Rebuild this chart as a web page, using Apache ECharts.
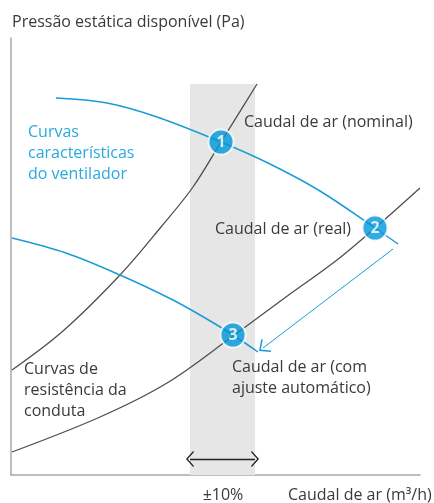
<!DOCTYPE html>
<html>
<head>
<meta charset="utf-8">
<script src="https://cdn.jsdelivr.net/npm/echarts@6.0.0/dist/echarts.min.js"></script>
<style>
  html, body { margin: 0; padding: 0; background: #fff; }
  #main { width: 434px; height: 503px; }
</style>
</head>
<body>
<div id="main"></div>
<script>
// schematic units: flow (x) and pressure (y), no ticks on the original
const fanNominal = [[45, 377], [96, 372], [146, 358], [210, 333], [259, 311], [309, 284], [364, 247], [387, 231]]
const fanReduced = [[1, 237], [55, 222], [109, 200], [160, 176], [189, 160], [222, 140], [247, 123]]
const ductHigh = [[1, 105], [52, 144], [109, 200], [150, 248], [182, 288], [210, 333], [246, 391]]
const ductLow = [[1, 23], [89, 58], [156, 92], [222, 139], [275, 178], [326, 215], [364, 247], [409, 287]]
const workPoints = [[210, 333, "1"], [364, 247, "2"], [222, 140, "3"]]
const tolBand = [179, 244] // ±10% of flow
const bandTop = 391
const tolArrowY = 16
const shiftArrow = [[382, 226], [252, 127]]

const BLUE = "#1a9bd7"
const GREY = "#4f4f4f"
const TXT = "#3a3a3a"
const FONT = "Open Sans"
const chevron = "path://M0,10 L10,0 L20,10 L18.6,11.2 L10,2.6 L1.4,11.2 Z"

const myChart = echarts.init(document.getElementById("main"))

const txt = (x, y, s, color, align) => ({
  type: "text",
  z: 100,
  x: x,
  y: y,
  style: {
    text: s,
    fill: color || TXT,
    font: "16px '" + FONT + "'",
    lineHeight: 21,
    align: align || "left",
    verticalAlign: "middle",
  },
})

const curve = (data, color, width) => ({
  type: "line", data: data, smooth: 0.35,
  symbol: "none", clip: false, silent: true,
  lineStyle: { color: color, width: width },
})

myChart.setOption({
  animation: false,
  grid: { left: 11, right: 14, top: 38, bottom: 28 },
  xAxis: {
    type: "value", min: 0, max: 409,
    axisLine: { show: true, lineStyle: { color: "#a8a8a8", width: 1.5 } },
    axisTick: { show: false }, axisLabel: { show: false }, splitLine: { show: false },
  },
  yAxis: {
    type: "value", min: 0, max: 437,
    axisLine: { show: true, lineStyle: { color: "#a8a8a8", width: 1.5 } },
    axisTick: { show: false }, axisLabel: { show: false }, splitLine: { show: false },
  },
  series: [
    {
      type: "line", data: [], silent: true,
      markArea: {
        silent: true,
        itemStyle: { color: "#e6e6e6" },
        data: [[{ coord: [tolBand[0], 0] }, { coord: [tolBand[1], bandTop] }]],
      },
      markLine: {
        silent: true,
        symbol: [chevron, chevron],
        symbolSize: [16, 8],
        label: { show: false },
        data: [
          [{ coord: [tolBand[0], tolArrowY], lineStyle: { color: "#222", width: 1.4, type: "solid" } },
           { coord: [tolBand[1], tolArrowY] }],
          [{ coord: shiftArrow[0], symbol: "none", lineStyle: { color: BLUE, width: 1, type: "solid", curveness: 0.07 } },
           { coord: shiftArrow[1], symbol: chevron, symbolSize: [16, 10] }],
        ],
      },
    },
    curve(ductHigh, GREY, 1.3),
    curve(ductLow, GREY, 1.3),
    curve(fanNominal, BLUE, 1.5),
    curve(fanReduced, BLUE, 1.5),
    {
      type: "scatter",
      data: workPoints,
      symbolSize: 25,
      z: 5,
      itemStyle: { color: "#0096d8", borderColor: "#fff", borderWidth: 2 },
      label: {
        show: true, position: "inside",
        formatter: (p) => p.value[2],
        color: "#fff", fontFamily: FONT, fontWeight: "bold", fontSize: 16,
      },
    },
  ],
  graphic: [
    txt(12, 22, "Pressão estática disponível (Pa)"),
    txt(244, 122, "Caudal de ar (nominal)"),
    txt(28, 153, "Curvas\ncaracterísticas\ndo ventilador", "#29a9e1"),
    txt(215, 229, "Caudal de ar (real)"),
    txt(24, 390, "Curvas de\nresistência da\nconduta"),
    txt(232, 378, "Caudal de ar (com\najuste automático)"),
    txt(223, 495, "±10%", TXT, "center"),
    txt(288, 495, "Caudal de ar (m³/h)"),
  ],
})
</script>
</body>
</html>
